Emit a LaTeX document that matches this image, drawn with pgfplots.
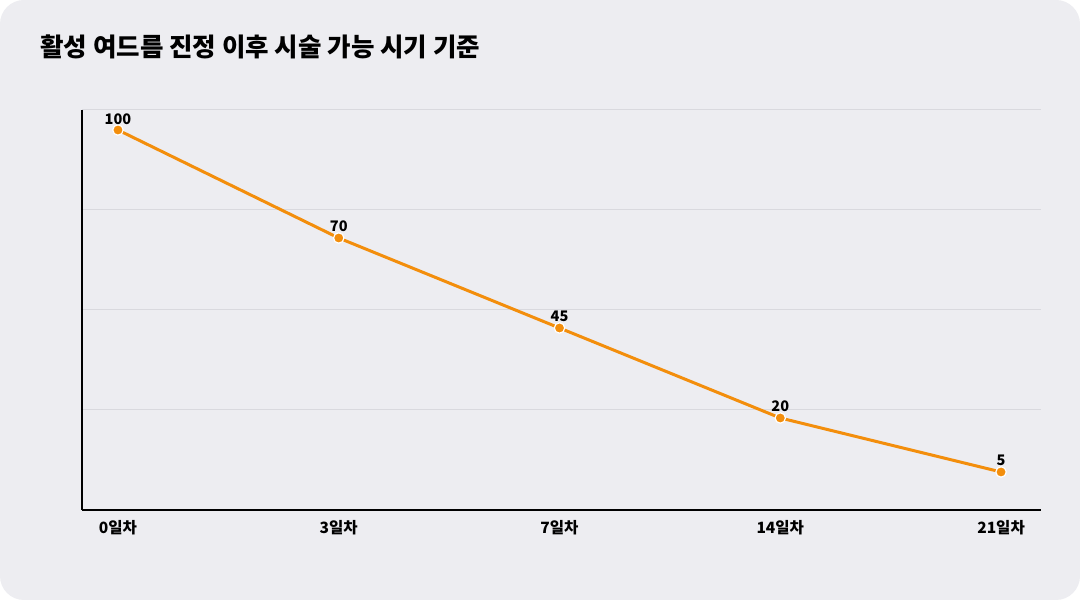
\documentclass[border=0pt]{standalone}
\usepackage{fontspec}
\setmainfont{Noto Sans CJK KR}
\usepackage{pgfplots}
\pgfplotsset{compat=1.18}
\definecolor{bg}{HTML}{EDEDF1}
\definecolor{lineor}{HTML}{F38E0C}
\definecolor{gridc}{HTML}{D9D9DE}
\begin{document}
\begin{tikzpicture}
\useasboundingbox (0,0) rectangle (540bp,300bp);
\fill[white] (0,0) rectangle (540bp,300bp);
\fill[bg, rounded corners=12bp] (0,0) rectangle (540bp,300bp);
\node[anchor=west, font=\bfseries\fontsize{12.8}{15}\selectfont, inner sep=0pt] at (20bp,276.5bp) {활성 여드름 진정 이후 시술 가능 시기 기준};
\begin{axis}[
  at={(41bp,45bp)}, anchor=south west,
  scale only axis, width=479.5bp, height=200bp,
  xmin=-0.163, xmax=4.181, ymin=-5.56, ymax=105.56,
  axis lines*=left,
  axis line style={black, line width=1bp},
  ytick={22.22,50,77.78,105.56}, yticklabels={},
  ymajorgrids, grid style={gridc, line width=0.5bp},
  xtick={0,1,2,3,4},
  xticklabels={0일차,3일차,7일차,14일차,21일차},
  xticklabel style={font=\bfseries\fontsize{7.8}{9}\selectfont, anchor=center, yshift=-9bp, inner sep=0pt},
  major tick length=0pt,
  /pgf/number format/assume math mode=true,
  clip=false,
]
\addplot[lineor, line width=1.5bp, mark=*, mark size=2.6bp,
  mark options={fill=lineor, draw=white, line width=0.6bp},
  nodes near coords,
  nodes near coords style={font=\bfseries\fontsize{7.3}{8}\selectfont, anchor=south, inner sep=0pt, yshift=2.6bp, text=black}]
  coordinates {(0,100) (1,70) (2,45) (3,20) (4,5)};
\end{axis}
\end{tikzpicture}
\end{document}
